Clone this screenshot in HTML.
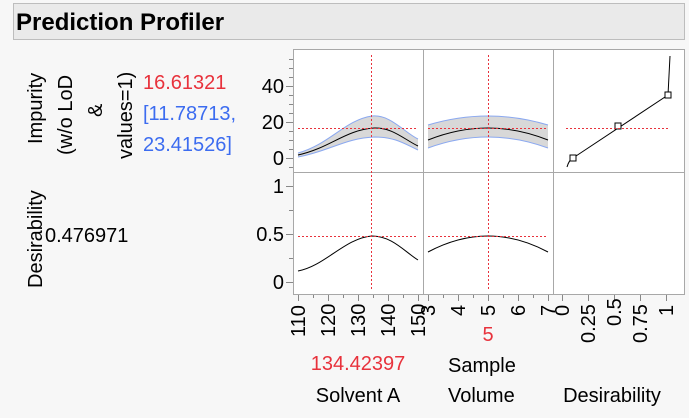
<!DOCTYPE html>
<html><head><style>
body{margin:0;background:#f7f7f7;width:689px;height:418px;overflow:hidden;font-family:"Liberation Sans",sans-serif;}
</style></head><body>
<svg width="689" height="418" xmlns="http://www.w3.org/2000/svg" style="position:absolute;left:0;top:0" font-family="Liberation Sans, sans-serif">
<rect x="13.5" y="3.5" width="671" height="36" fill="#eaeaea" stroke="#bdbdbd"/>
<text x="16" y="30" font-size="24" font-weight="bold" fill="#000">Prediction Profiler</text>
<g font-size="20" fill="#000">
<text transform="translate(42,144) rotate(-90)">Impurity</text>
<text transform="translate(72,155) rotate(-90)">(w/o LoD</text>
<text transform="translate(102,117) rotate(-90)">&amp;</text>
<text transform="translate(132,159) rotate(-90)">values=1)</text>
<text transform="translate(42,288) rotate(-90)">Desirability</text>
<text x="45" y="242">0.476971</text>
</g>
<text x="143" y="89" font-size="20" fill="#e8323c">16.61321</text>
<text x="143" y="120" font-size="20" fill="#3c6cf0">[11.78713,</text>
<text x="143" y="151" font-size="20" fill="#3c6cf0">23.41526]</text>
<rect x="293.5" y="49.5" width="391" height="245" fill="#fff" stroke="#a8a8a8"/>
<line x1="423.5" y1="49" x2="423.5" y2="295" stroke="#a8a8a8"/>
<line x1="553.5" y1="49" x2="553.5" y2="295" stroke="#a8a8a8"/>
<line x1="293" y1="172.5" x2="685" y2="172.5" stroke="#a8a8a8"/>
<g stroke="#888">
<line x1="286" y1="158.5" x2="293" y2="158.5"/><line x1="286" y1="122.5" x2="293" y2="122.5"/><line x1="286" y1="86.5" x2="293" y2="86.5"/>
<line x1="289" y1="167.5" x2="293" y2="167.5"/><line x1="289" y1="149.5" x2="293" y2="149.5"/><line x1="289" y1="140.5" x2="293" y2="140.5"/><line x1="289" y1="131.5" x2="293" y2="131.5"/><line x1="289" y1="113.5" x2="293" y2="113.5"/><line x1="289" y1="104.5" x2="293" y2="104.5"/><line x1="289" y1="95.5" x2="293" y2="95.5"/><line x1="289" y1="77.5" x2="293" y2="77.5"/><line x1="289" y1="68.5" x2="293" y2="68.5"/><line x1="289" y1="59.5" x2="293" y2="59.5"/>
<line x1="286" y1="186.5" x2="293" y2="186.5"/><line x1="286" y1="234.5" x2="293" y2="234.5"/><line x1="286" y1="282.5" x2="293" y2="282.5"/>
<line x1="289" y1="210.5" x2="293" y2="210.5"/><line x1="289" y1="258.5" x2="293" y2="258.5"/>
</g>
<g font-size="20" fill="#000" text-anchor="end">
<text x="284" y="165">0</text><text x="284" y="129">20</text><text x="284" y="93">40</text>
<text x="284" y="193">1</text><text x="284" y="241">0.5</text><text x="284" y="289">0</text>
</g>
<g stroke="#888">
<line x1="298.5" y1="295" x2="298.5" y2="301"/><line x1="328.5" y1="295" x2="328.5" y2="301"/><line x1="358.5" y1="295" x2="358.5" y2="301"/><line x1="388.5" y1="295" x2="388.5" y2="301"/><line x1="418.5" y1="295" x2="418.5" y2="301"/>
<line x1="313.5" y1="295" x2="313.5" y2="298"/><line x1="343.5" y1="295" x2="343.5" y2="298"/><line x1="373.5" y1="295" x2="373.5" y2="298"/><line x1="403.5" y1="295" x2="403.5" y2="298"/>
<line x1="428.5" y1="295" x2="428.5" y2="301"/><line x1="458.5" y1="295" x2="458.5" y2="301"/><line x1="488.5" y1="295" x2="488.5" y2="301"/><line x1="518.5" y1="295" x2="518.5" y2="301"/><line x1="548.5" y1="295" x2="548.5" y2="301"/>
<line x1="443.5" y1="295" x2="443.5" y2="298"/><line x1="473.5" y1="295" x2="473.5" y2="298"/><line x1="503.5" y1="295" x2="503.5" y2="298"/><line x1="533.5" y1="295" x2="533.5" y2="298"/>
<line x1="562.5" y1="295" x2="562.5" y2="301"/><line x1="588.5" y1="295" x2="588.5" y2="301"/><line x1="614.5" y1="295" x2="614.5" y2="301"/><line x1="640.5" y1="295" x2="640.5" y2="301"/><line x1="666.5" y1="295" x2="666.5" y2="301"/>
</g>
<g font-size="20" fill="#000">
<text transform="translate(305,337) rotate(-90)">110</text>
<text transform="translate(335,337) rotate(-90)">120</text>
<text transform="translate(365,337) rotate(-90)">130</text>
<text transform="translate(395,337) rotate(-90)">140</text>
<text transform="translate(425,337) rotate(-90)">150</text>
<text transform="translate(435,316) rotate(-90)">3</text>
<text transform="translate(465,316) rotate(-90)">4</text>
<text transform="translate(495,316) rotate(-90)">5</text>
<text transform="translate(525,316) rotate(-90)">6</text>
<text transform="translate(555,316) rotate(-90)">7</text>
<text transform="translate(569,316) rotate(-90)">0</text>
<text transform="translate(595,343) rotate(-90)">0.25</text>
<text transform="translate(621,326) rotate(-90)">0.5</text>
<text transform="translate(647,343) rotate(-90)">0.75</text>
<text transform="translate(673,316) rotate(-90)">1</text>
</g>
<text x="488" y="341" font-size="20" fill="#e8323c" text-anchor="middle">5</text>
<text x="358" y="370" font-size="20" fill="#e8323c" text-anchor="middle">134.42397</text>
<text x="448" y="372" font-size="20" fill="#000">Sample</text>
<text x="448" y="402" font-size="20" fill="#000">Volume</text>
<text x="358" y="402" font-size="20" fill="#000" text-anchor="middle">Solvent A</text>
<text x="612" y="402" font-size="20" fill="#000" text-anchor="middle">Desirability</text>
<path d="M298,153 C330,144 345,120 372,116 C390,114 405,133 418,139 L418,150 C405,144 395,137 375,137 C345,138 330,151 298,157 Z" fill="#d8d8d8"/>
<path d="M298,153 C330,144 345,120 372,116 C390,114 405,133 418,139" fill="none" stroke="#8aa8f0"/>
<path d="M298,157 C330,151 345,138 375,137 C395,137 405,144 418,150" fill="none" stroke="#8aa8f0"/>
<path d="M428,125 Q488,107 548,125 L548,148 Q488,126 428,148 Z" fill="#d8d8d8"/>
<path d="M428,125 Q488,107 548,125" fill="none" stroke="#8aa8f0"/>
<path d="M428,148 Q488,126 548,148" fill="none" stroke="#8aa8f0"/>
<path d="M298,155 C330,148 345,130 374,128 C392,127 405,140 418,146" fill="none" stroke="#000"/>
<path d="M428,140 Q488,116 548,140" fill="none" stroke="#000"/>
<path d="M298,271 C325,266 345,238 372,236 C392,236 405,252 418,260" fill="none" stroke="#000"/>
<path d="M428,252 Q488,220 548,252" fill="none" stroke="#000"/>
<path d="M567,167 Q569,160 573,158 L668,95 L670,56" fill="none" stroke="#000"/>
<g fill="#fff" stroke="#000"><rect x="570" y="155" width="6" height="6"/><rect x="615" y="123" width="6" height="6"/><rect x="665" y="92" width="6" height="6"/></g>
<g stroke="#e8323c" stroke-dasharray="2,2">
<line x1="371.5" y1="55" x2="371.5" y2="290"/><line x1="488.5" y1="55" x2="488.5" y2="290"/>
<line x1="298" y1="128.5" x2="416" y2="128.5"/><line x1="428" y1="128.5" x2="546" y2="128.5"/><line x1="566" y1="128.5" x2="668" y2="128.5"/>
<line x1="298" y1="236.5" x2="416" y2="236.5"/><line x1="428" y1="236.5" x2="546" y2="236.5"/>
</g>
</svg>
</body></html>
